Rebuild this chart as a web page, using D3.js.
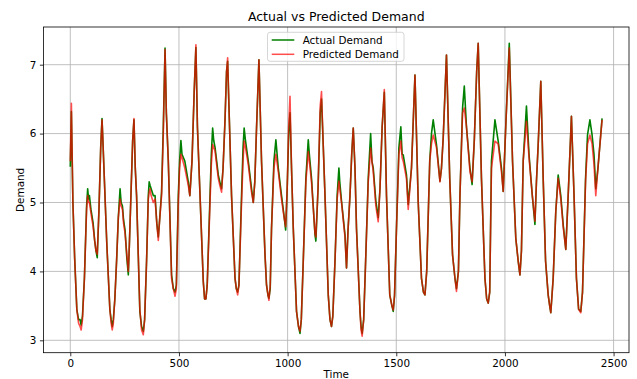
<!DOCTYPE html>
<html>
<head>
<meta charset="utf-8">
<script src="https://cdn.jsdelivr.net/npm/d3@7"></script>
<style>
  body { margin: 0; background: #fff; }
  svg { display: block; font-family: "DejaVu Sans", sans-serif; }
</style>
</head>
<body>
<div id="chart"></div>
<script>
// Key points (time, actual, predicted)
const time = [0,5,12,20,30,38,45,50,56,65,75,80,84,88,95,105,112,118,124,132,140,146,150,156,168,182,188,193,198,205,213,221,229,234,240,245,252,260,267,272,280,287,293,299,305,320,328,336,342,351,359,363,367,372,382,390,398,405,410,420,428,436,442,451,466,474,482,488,497,503,509,514,527,543,550,560,570,578,585,597,612,618,624,630,643,649,655,660,666,681,688,696,703,712,719,724,730,742,758,764,770,776,788,795,800,806,819,834,842,849,857,868,880,896,903,910,914,920,926,937,946,957,972,983,991,998,1005,1011,1018,1026,1041,1050,1057,1063,1072,1084,1095,1100,1110,1126,1130,1140,1150,1156,1162,1172,1187,1195,1202,1208,1218,1228,1236,1240,1248,1264,1271,1278,1287,1295,1302,1310,1317,1333,1338,1343,1350,1359,1371,1382,1388,1394,1406,1417,1425,1435,1445,1455,1470,1480,1486,1492,1501,1512,1521,1527,1532,1547,1555,1570,1586,1601,1616,1625,1632,1640,1654,1662,1670,1685,1701,1708,1716,1731,1746,1759,1770,1777,1786,1793,1805,1813,1823,1839,1849,1859,1870,1877,1892,1908,1916,1923,1930,1938,1954,1969,1984,1992,2005,2020,2035,2050,2061,2069,2076,2084,2099,2111,2126,2138,2145,2153,2165,2176,2187,2199,2206,2211,2222,2234,2245,2257,2268,2280,2291,2306,2318,2329,2339,2349,2357,2371,2380,2391,2401,2410,2418,2428,2447];

const actual = [5.52,6.32,5.0,4.2,3.45,3.3,3.3,3.22,3.35,3.9,4.95,5.2,5.05,5.1,4.9,4.7,4.45,4.3,4.2,4.9,5.8,6.22,5.9,5.4,4.4,3.45,3.3,3.2,3.3,3.6,4.15,4.78,5.2,5.0,4.95,4.75,4.6,4.2,3.95,4.4,5.2,5.9,6.2,5.5,5.1,3.42,3.2,3.13,3.3,4.15,5.1,5.3,5.25,5.2,5.1,5.1,4.7,4.5,4.7,5.15,6.1,7.24,6.3,5.6,3.95,3.75,3.7,3.8,5.1,5.6,5.9,5.7,5.6,5.3,5.1,5.6,6.6,7.25,6.1,5.1,3.85,3.6,3.6,3.8,5.1,5.7,6.08,5.9,5.8,5.4,5.3,5.2,5.5,6.2,6.9,7.05,6.4,5.1,3.9,3.75,3.7,3.8,5.1,5.8,6.08,5.9,5.6,5.2,5.0,5.3,6.08,7.07,5.6,4.24,3.8,3.65,3.61,3.75,4.63,5.6,5.91,5.5,5.1,4.82,4.6,5.2,6.0,6.3,5.5,4.63,3.42,3.2,3.1,3.3,4.15,5.35,5.91,5.7,5.35,4.53,4.44,5.2,6.3,6.5,6.0,5.1,3.66,3.3,3.2,3.35,4.15,5.1,5.5,5.3,5.02,4.53,4.05,4.6,5.1,5.7,6.08,5.5,4.63,3.42,3.2,3.1,3.3,4.15,5.35,6.0,5.6,5.5,5.02,4.78,5.2,6.1,6.6,5.1,3.66,3.5,3.42,3.65,4.63,5.79,6.1,5.7,5.69,5.4,4.97,5.5,6.85,5.0,3.9,3.7,3.66,4.0,5.6,6.0,6.2,5.84,5.31,5.5,5.94,7.14,5.35,4.24,3.9,3.75,4.0,5.1,6.37,6.69,6.1,5.5,5.26,5.9,6.9,7.31,5.35,3.9,3.6,3.54,3.7,5.6,6.2,5.89,5.5,5.16,6.2,7.31,5.6,4.48,4.15,3.95,4.3,5.6,6.4,5.69,5.1,4.68,5.3,5.84,6.76,5.35,4.15,3.66,3.5,3.4,3.9,4.87,5.4,5.1,4.68,4.32,5.1,6.25,5.1,3.9,3.45,3.42,3.7,5.35,5.98,6.2,5.98,5.69,5.2,5.5,6.22];

const predicted = [5.6,6.44,5.0,4.2,3.45,3.25,3.2,3.15,3.3,3.9,4.9,5.1,5.0,5.0,4.85,4.65,4.45,4.3,4.25,4.9,5.8,6.2,5.9,5.4,4.4,3.45,3.25,3.15,3.25,3.6,4.15,4.78,5.05,4.95,4.9,4.7,4.55,4.25,4.0,4.4,5.2,5.9,6.22,5.5,5.1,3.45,3.15,3.08,3.3,4.15,5.05,5.15,5.2,5.1,5.0,5.05,4.7,4.45,4.7,5.1,6.0,7.22,6.3,5.6,3.9,3.75,3.64,3.75,5.0,5.5,5.7,5.65,5.5,5.25,5.1,5.6,6.6,7.29,6.1,5.1,3.85,3.6,3.6,3.8,5.0,5.55,5.84,5.8,5.75,5.35,5.25,5.15,5.5,6.2,6.9,7.1,6.4,5.1,3.9,3.75,3.66,3.8,5.0,5.6,5.89,5.8,5.55,5.15,5.0,5.3,6.08,7.07,5.6,4.24,3.8,3.65,3.58,3.8,4.63,5.5,5.7,5.45,5.05,4.8,4.65,5.2,6.1,6.54,5.5,4.63,3.42,3.2,3.13,3.3,4.15,5.3,5.74,5.6,5.3,4.55,4.5,5.2,6.4,6.61,6.0,5.1,3.66,3.3,3.2,3.35,4.15,5.05,5.31,5.2,5.0,4.5,4.05,4.6,5.1,5.7,6.08,5.5,4.6,3.42,3.15,3.06,3.3,4.15,5.3,5.79,5.6,5.45,4.95,4.72,5.2,6.1,6.64,5.1,3.66,3.5,3.44,3.65,4.63,5.7,5.89,5.65,5.6,5.35,4.9,5.5,6.85,5.0,3.9,3.7,3.66,4.0,5.6,5.85,5.98,5.8,5.3,5.5,5.94,7.14,5.35,4.24,3.9,3.71,4.0,5.1,6.3,6.37,6.1,5.45,5.3,5.9,6.9,7.31,5.35,3.9,3.6,3.54,3.7,5.5,5.89,5.85,5.45,5.16,6.2,7.24,5.6,4.48,4.15,3.95,4.3,5.6,6.18,5.65,5.1,4.73,5.3,5.84,6.76,5.35,4.15,3.66,3.5,3.4,3.9,4.87,5.35,5.05,4.65,4.32,5.1,6.25,5.1,3.9,3.45,3.4,3.7,5.3,5.85,5.98,5.85,5.55,5.1,5.5,6.2];

const xTicks = [0, 500, 1000, 1500, 2000, 2500];
const yTicks = [3, 4, 5, 6, 7];

const W = 637, H = 379;
const plotLeft = 43.5, plotRight = 629, plotTop = 27, plotBottom = 352.7;

const svg = d3.select("#chart").append("svg")
  .attr("width", W)
  .attr("height", H);

const x = d3.scaleLinear().domain([-123.3, 2570.9]).range([plotLeft, plotRight]);
const y = d3.scaleLinear().domain([2.82, 7.547]).range([plotBottom, plotTop]);

// grid
const grid = svg.append("g").attr("stroke", "#b0b0b0").attr("stroke-width", 0.8);
grid.selectAll("line.gx").data(xTicks).join("line")
  .attr("x1", d => x(d)).attr("x2", d => x(d))
  .attr("y1", plotTop).attr("y2", plotBottom);
grid.selectAll("line.gy").data(yTicks).join("line")
  .attr("x1", plotLeft).attr("x2", plotRight)
  .attr("y1", d => y(d)).attr("y2", d => y(d));

// series
svg.append("clipPath").attr("id", "plotclip")
  .append("rect").attr("x", plotLeft).attr("y", plotTop)
  .attr("width", plotRight - plotLeft).attr("height", plotBottom - plotTop);

const line = vals => d3.line()
  .x((d, i) => x(time[i]))
  .y(d => y(d))(vals);

svg.append("path")
  .attr("d", line(actual))
  .attr("fill", "none")
  .attr("stroke", "green")
  .attr("stroke-width", 1.6)
  .attr("stroke-linejoin", "round")
  .attr("clip-path", "url(#plotclip)");

svg.append("path")
  .attr("d", line(predicted))
  .attr("fill", "none")
  .attr("stroke", "red")
  .attr("stroke-opacity", 0.7)
  .attr("stroke-width", 1.6)
  .attr("stroke-linejoin", "round")
  .attr("clip-path", "url(#plotclip)");

// axes
const xAxis = d3.axisBottom(x).tickValues(xTicks).tickFormat(d3.format("d"))
  .tickSize(3.6).tickPadding(3.6);
const yAxis = d3.axisLeft(y).tickValues(yTicks).tickFormat(d3.format("d"))
  .tickSize(3.6).tickPadding(3.6);

const gx = svg.append("g").attr("transform", `translate(0,${plotBottom})`).call(xAxis);
const gy = svg.append("g").attr("transform", `translate(${plotLeft},0)`).call(yAxis);
[gx, gy].forEach(g => {
  g.select(".domain").remove();
  g.selectAll(".tick line").attr("stroke", "#000").attr("stroke-width", 0.8);
  g.selectAll("text")
    .attr("fill", "#000")
    .style("font-family", "DejaVu Sans")
    .style("font-size", "10.4px");
});

// spines
svg.append("rect")
  .attr("x", plotLeft).attr("y", plotTop)
  .attr("width", plotRight - plotLeft).attr("height", plotBottom - plotTop)
  .attr("fill", "none")
  .attr("stroke", "#000")
  .attr("stroke-width", 0.8);

// title & labels
svg.append("text")
  .attr("x", (plotLeft + plotRight) / 2).attr("y", 21)
  .attr("text-anchor", "middle")
  .style("font-size", "12.5px")
  .text("Actual vs Predicted Demand");

svg.append("text")
  .attr("x", (plotLeft + plotRight) / 2).attr("y", 378)
  .attr("text-anchor", "middle")
  .style("font-size", "10.4px")
  .text("Time");

svg.append("text")
  .attr("transform", `translate(24,${(plotTop + plotBottom) / 2}) rotate(-90)`)
  .attr("text-anchor", "middle")
  .style("font-size", "10.4px")
  .text("Demand");

// legend
const legendItems = [
  { label: "Actual Demand", color: "green", opacity: 1 },
  { label: "Predicted Demand", color: "red", opacity: 0.7 },
];
const lg = svg.append("g");
lg.append("rect")
  .attr("x", 267.5).attr("y", 32.3)
  .attr("width", 136.5).attr("height", 29)
  .attr("rx", 2.5)
  .attr("fill", "#fff").attr("fill-opacity", 0.8)
  .attr("stroke", "#cccccc").attr("stroke-width", 0.8);
legendItems.forEach((d, i) => {
  const ly = 40 + i * 14.3;
  lg.append("line")
    .attr("x1", 271.7).attr("x2", 294.3)
    .attr("y1", ly).attr("y2", ly)
    .attr("stroke", d.color).attr("stroke-opacity", d.opacity)
    .attr("stroke-width", 1.5);
  lg.append("text")
    .attr("x", 302.7).attr("y", ly + 3.8)
    .style("font-size", "10.4px")
    .text(d.label);
});
</script>
</body>
</html>
